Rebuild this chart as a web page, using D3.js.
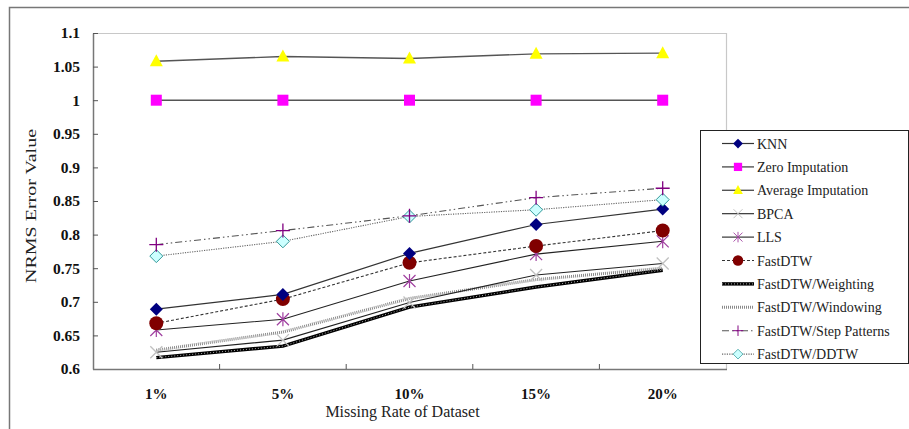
<!DOCTYPE html>
<html>
<head>
<meta charset="utf-8">
<script src="https://cdn.jsdelivr.net/npm/d3@7"></script>
<style>
  body { margin: 0; background: #fff; }
  svg { display: block; }
</style>
</head>
<body>
<svg id="drawing_region"></svg>
<script>
// data
const categories = ["1%", "5%", "10%", "15%", "20%"];
const yTicks = [0.6, 0.65, 0.7, 0.75, 0.8, 0.85, 0.9, 0.95, 1, 1.05, 1.1];

const knn        = [0.689, 0.711, 0.772, 0.815, 0.838];
const zeroImp    = [1.0, 1.0, 1.0, 1.0, 1.0];
const avgImp     = [1.058, 1.065, 1.062, 1.069, 1.070];
const bpca       = [0.625, 0.643, 0.699, 0.740, 0.757];
const lls        = [0.658, 0.674, 0.731, 0.771, 0.790];
const fastdtw    = [0.668, 0.704, 0.758, 0.783, 0.806];
const weighting  = [0.617, 0.634, 0.692, 0.722, 0.747];
const windowing  = [0.628, 0.655, 0.705, 0.733, 0.750];
const stepPat    = [0.785, 0.806, 0.828, 0.855, 0.869];
const ddtw       = [0.768, 0.790, 0.827, 0.837, 0.852];

const seriesNames = ["KNN", "Zero Imputation", "Average Imputation", "BPCA", "LLS",
    "FastDTW", "FastDTW/Weighting", "FastDTW/Windowing", "FastDTW/Step Patterns", "FastDTW/DDTW"];
const seriesValues = [knn, zeroImp, avgImp, bpca, lls, fastdtw, weighting, windowing, stepPat, ddtw];

// line and marker styles
const styles = {
    "KNN":                  {stroke: "#333", width: 1.2, dash: null, marker: "diamond", fill: "#000080", mstroke: "none"},
    "Zero Imputation":      {stroke: "#555", width: 1.4, dash: null, marker: "square", fill: "#ff00ff", mstroke: "none"},
    "Average Imputation":   {stroke: "#555", width: 1.4, dash: null, marker: "triangle", fill: "#ffff00", mstroke: "none"},
    "BPCA":                 {stroke: "#222", width: 1.1, dash: null, marker: "x", fill: "none", mstroke: "#c0c0c0"},
    "LLS":                  {stroke: "#222", width: 1.1, dash: null, marker: "asterisk", fill: "none", mstroke: "#a040a0"},
    "FastDTW":              {stroke: "#333", width: 1.1, dash: "3,2", marker: "circle", fill: "#800000", mstroke: "none"},
    "FastDTW/Weighting":    {stroke: "#000", width: 3.4, dash: null, marker: null, overlay: true},
    "FastDTW/Windowing":    {stroke: "#8a8a8a", width: 3, dash: "1,1", marker: null},
    "FastDTW/Step Patterns":{stroke: "#555", width: 1.1, dash: "7,3,1.5,3,1.5,3", marker: "plus", fill: "none", mstroke: "#800080"},
    "FastDTW/DDTW":         {stroke: "#666", width: 1.1, dash: "1.2,1.2", marker: "diamond2", fill: "#ccffff", mstroke: "#339999"}
};

const W = 909, H = 429;
const margin = {top: 33, left: 93, right: 183, bottom: 60};
const innerW = W - margin.left - margin.right;
const innerH = H - margin.top - margin.bottom;
const serif = "'Liberation Serif', 'Times New Roman', serif";

const svg = d3.select("#drawing_region").attr("width", W).attr("height", H);

// outer frame
svg.append("path")
    .attr("d", `M9.5,${H} L9.5,7.5 L${W},7.5`)
    .attr("fill", "none").attr("stroke", "#777").attr("stroke-width", 1.5);

const chart = svg.append("g").attr("transform", `translate(${margin.left},${margin.top})`);

const xscale = d3.scaleBand().domain(categories).range([0, innerW]);
const yscale = d3.scaleLinear().domain([0.6, 1.1]).range([innerH, 0]);

// plot frame (top / right)
chart.append("path")
    .attr("d", `M0,0.5 L${innerW + 0.5},0.5 L${innerW + 0.5},${innerH}`)
    .attr("fill", "none").attr("stroke", "#c8c8c8").attr("stroke-width", 1.2);

// y axis
const yaxis = d3.axisLeft(yscale).tickValues(yTicks).tickSize(-5).tickSizeOuter(0)
    .tickFormat(d => d3.format("")(+d.toFixed(2)));
const yg = chart.append("g").call(yaxis);
yg.select(".domain").attr("stroke", "#777").attr("stroke-width", 1.5);
yg.selectAll(".tick line").attr("stroke", "#555");
yg.selectAll(".tick text")
    .attr("x", -13)
    .attr("font-family", serif)
    .attr("font-weight", "bold").attr("font-size", "15.5px").attr("fill", "#111");

// x axis: ticks at band boundaries, inward
const xg = chart.append("g").attr("transform", `translate(0,${innerH})`);
xg.append("line").attr("x1", 0).attr("x2", innerW + 1).attr("y1", 0.5).attr("y2", 0.5)
    .attr("stroke", "#777").attr("stroke-width", 1.5);
xg.selectAll(".xt").data(categories.slice(1)).enter().append("line")
    .attr("x1", d => xscale(d)).attr("x2", d => xscale(d))
    .attr("y1", 0).attr("y2", -5).attr("stroke", "#555");
xg.selectAll(".xl").data(categories).enter().append("text")
    .attr("x", d => xscale(d) + xscale.bandwidth() / 2)
    .attr("y", 29.5)
    .attr("text-anchor", "middle")
    .attr("font-family", serif)
    .attr("font-weight", "bold").attr("font-size", "15px").attr("fill", "#111")
    .text(d => d);

// axis titles
svg.append("text")
    .attr("x", margin.left + innerW / 2 - 7).attr("y", 417)
    .attr("text-anchor", "middle")
    .attr("font-family", serif)
    .attr("font-size", "16px").attr("fill", "#222")
    .text("Missing Rate of Dataset");
svg.append("text")
    .attr("transform", "translate(36,206) rotate(-90)")
    .attr("text-anchor", "middle")
    .attr("font-family", serif)
    .attr("font-size", "15px").attr("fill", "#222")
    .attr("textLength", 154).attr("lengthAdjust", "spacingAndGlyphs")
    .text("NRMS Error Value");

// markers
function drawMarker(g, type, st) {
    if (type === "diamond") {
        g.append("path").attr("d", "M0,-6.5 L6.5,0 L0,6.5 L-6.5,0 Z").attr("fill", st.fill);
    } else if (type === "diamond2") {
        g.append("path").attr("d", "M0,-6.5 L6.5,0 L0,6.5 L-6.5,0 Z")
            .attr("fill", st.fill).attr("stroke", st.mstroke).attr("stroke-width", 1);
    } else if (type === "square") {
        g.append("rect").attr("x", -5.5).attr("y", -5.5).attr("width", 11).attr("height", 11).attr("fill", st.fill);
    } else if (type === "triangle") {
        g.append("path").attr("d", "M0,-7 L6.5,5 L-6.5,5 Z").attr("fill", st.fill);
    } else if (type === "circle") {
        g.append("circle").attr("r", 7).attr("fill", st.fill);
    } else if (type === "x") {
        g.append("path").attr("d", "M-6,-6 L6,6 M-6,6 L6,-6")
            .attr("stroke", st.mstroke).attr("stroke-width", 1.3).attr("fill", "none");
    } else if (type === "asterisk") {
        g.append("path").attr("d", "M-6,-6 L6,6 M-6,6 L6,-6 M0,-7 L0,7")
            .attr("stroke", st.mstroke).attr("stroke-width", 1.2).attr("fill", "none");
    } else if (type === "plus") {
        g.append("path").attr("d", "M-7,0 L7,0 M0,-7 L0,7")
            .attr("stroke", st.mstroke).attr("stroke-width", 1.3).attr("fill", "none");
    }
}

const line = d3.line()
    .x((d, i) => xscale(categories[i]) + xscale.bandwidth() / 2)
    .y(d => yscale(d));

// draw lines (bottom layers first so markers on top)
const drawOrder = [6, 7, 3, 4, 5, 0, 9, 8, 1, 2];
drawOrder.forEach(k => {
    const st = styles[seriesNames[k]];
    chart.append("path").datum(seriesValues[k]).attr("d", line)
        .attr("fill", "none").attr("stroke", st.stroke).attr("stroke-width", st.width)
        .attr("stroke-dasharray", st.dash);
    if (st.overlay) {
        chart.append("path").datum(seriesValues[k]).attr("d", line)
            .attr("fill", "none").attr("stroke", "#aaa").attr("stroke-width", 1)
            .attr("stroke-dasharray", "1,2");
    }
});
drawOrder.forEach(k => {
    const st = styles[seriesNames[k]];
    if (!st.marker) return;
    seriesValues[k].forEach((v, i) => {
        const g = chart.append("g").attr("transform",
            `translate(${xscale(categories[i]) + xscale.bandwidth() / 2},${yscale(v)})`);
        drawMarker(g, st.marker, st);
    });
});

// legend
const lg = svg.append("g").attr("transform", "translate(700,130)");
lg.append("rect").attr("x", 0.5).attr("y", 0.5).attr("width", 208).attr("height", 233)
    .attr("fill", "#fff").attr("stroke", "#222").attr("stroke-width", 1);
const row = 23.4;
seriesNames.forEach((name, k) => {
    const st = styles[name];
    const y = 13.5 + k * row;
    const gi = lg.append("g").attr("transform", `translate(0,${y})`);
    gi.append("line").attr("x1", 22).attr("x2", 54).attr("y1", 0).attr("y2", 0)
        .attr("stroke", st.stroke).attr("stroke-width", st.width).attr("stroke-dasharray", st.dash);
    if (st.overlay) {
        gi.append("line").attr("x1", 22).attr("x2", 54).attr("y1", 0).attr("y2", 0)
            .attr("stroke", "#aaa").attr("stroke-width", 1).attr("stroke-dasharray", "1,2");
    }
    if (st.marker) {
        const mg = gi.append("g").attr("transform", "translate(38,0) scale(0.75)");
        drawMarker(mg, st.marker, st);
    }
    gi.append("text").attr("x", 57).attr("y", 5)
        .attr("font-family", serif)
        .attr("font-size", "14px").attr("fill", "#222")
        .text(name);
});
</script>
</body>
</html>
